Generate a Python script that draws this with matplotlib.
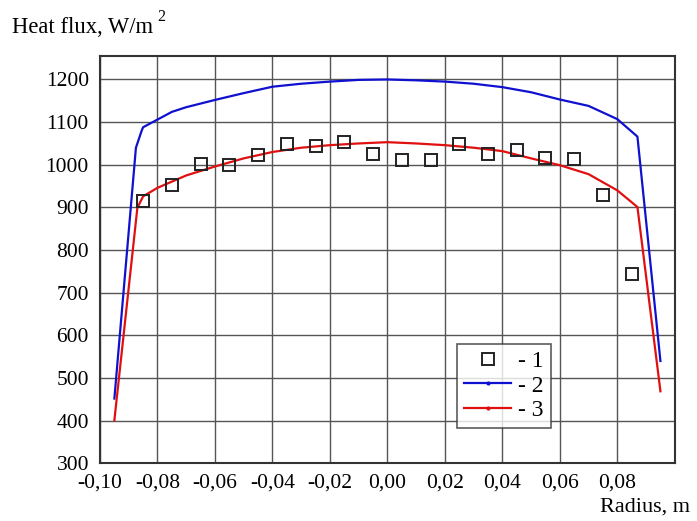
import matplotlib
matplotlib.use("Agg")
import matplotlib.pyplot as plt
from matplotlib.lines import Line2D
from matplotlib.ticker import FuncFormatter

# Experimental points (series 1)
exp_x = [-0.085, -0.075, -0.065, -0.055, -0.045, -0.035, -0.025, -0.015, -0.005,
         0.005, 0.015, 0.025, 0.035, 0.045, 0.055, 0.065, 0.075, 0.085]
exp_y = [914, 953, 1003, 1000, 1022, 1048, 1043, 1053, 1026,
         1012, 1012, 1048, 1026, 1034, 1017, 1014, 928, 743]

# Series 2 (blue)
s2_x = [-0.095, -0.0875, -0.0855, -0.085, -0.08, -0.075, -0.07, -0.06, -0.05, -0.04,
        -0.03, -0.02, -0.01, 0.0, 0.01, 0.02, 0.03, 0.04, 0.05, 0.06, 0.07, 0.08,
        0.087, 0.095]
s2_y = [452, 1040, 1080, 1088, 1106, 1124, 1135, 1152, 1168, 1183,
        1190, 1195, 1199, 1200, 1198, 1195, 1190, 1182, 1170, 1153, 1138, 1107,
        1066, 540]

# Series 3 (red)
s3_x = [-0.095, -0.087, -0.085, -0.08, -0.07, -0.06, -0.05, -0.04, -0.03, -0.02,
        -0.01, 0.0, 0.01, 0.02, 0.03, 0.04, 0.05, 0.06, 0.07, 0.08, 0.087, 0.095]
s3_y = [401, 899, 926, 946, 975, 996, 1015, 1030, 1040, 1046,
        1050, 1053, 1050, 1046, 1040, 1032, 1015, 999, 978, 940, 901, 469]

x_ticks = [-0.10, -0.08, -0.06, -0.04, -0.02, 0.00, 0.02, 0.04, 0.06, 0.08]
y_ticks = [300, 400, 500, 600, 700, 800, 900, 1000, 1100, 1200]

plt.rcParams['font.family'] = ['Liberation Serif', 'DejaVu Serif']

fig = plt.figure(figsize=(6.97, 5.21), dpi=100)
ax = fig.add_axes([100 / 697, 57.6 / 521, (674.8 - 100) / 697, (465 - 57.6) / 521])

ax.plot(s2_x, s2_y, color='#1010d0', lw=1.6)
ax.plot(s3_x, s3_y, color='#e01010', lw=1.6)
ax.plot(exp_x, exp_y, linestyle='none', marker='s', markersize=9,
        markerfacecolor='none', markeredgecolor='#222222', markeredgewidth=1.4)

ax.set_xlim(-0.10, 0.10)
ax.set_ylim(300, 1255)
ax.set_xticks(x_ticks)
ax.set_yticks(y_ticks)
ax.xaxis.set_major_formatter(FuncFormatter(lambda v, p: f"{v:.2f}".replace('.', ',').replace('-0,00', '0,00')))
ax.tick_params(length=0, labelsize=15.5)
ax.tick_params(axis='x', pad=7)
ax.tick_params(axis='y', pad=8)
ax.grid(True, color='#555555', lw=1.0)
ax.set_axisbelow(True)
for s in ax.spines.values():
    s.set_linewidth(1.5)
    s.set_color('#333333')

handles = [
    Line2D([], [], linestyle='none', marker='s', markersize=9, markerfacecolor='none',
           markeredgecolor='#222222', markeredgewidth=1.4),
    Line2D([], [], color='#1010d0', lw=1.6, marker='.', markersize=4),
    Line2D([], [], color='#e01010', lw=1.6, marker='.', markersize=4),
]
leg = ax.legend(handles, ['- 1', '- 2', '- 3'], loc='lower left',
                bbox_to_anchor=((457 - 100) / (674.8 - 100), (463.4 - 428) / 407.4),
                fontsize=17, frameon=True, fancybox=False, edgecolor='#333333',
                handlelength=2.0, handletextpad=0.3, borderpad=0.3, labelspacing=0.12,
                borderaxespad=0)
leg.get_frame().set_linewidth(1.2)

fig.text(12 / 697, 1 - 33 / 521, "Heat flux, W/m", fontsize=16.3, ha='left', va='baseline')
fig.text(157 / 697, 1 - 21 / 521, "2", fontsize=11.5, ha='left', va='baseline')
fig.text(690 / 697, 1 - 512 / 521, "Radius, m", fontsize=16, ha='right', va='baseline')

fig.savefig("out.png", dpi=100)
